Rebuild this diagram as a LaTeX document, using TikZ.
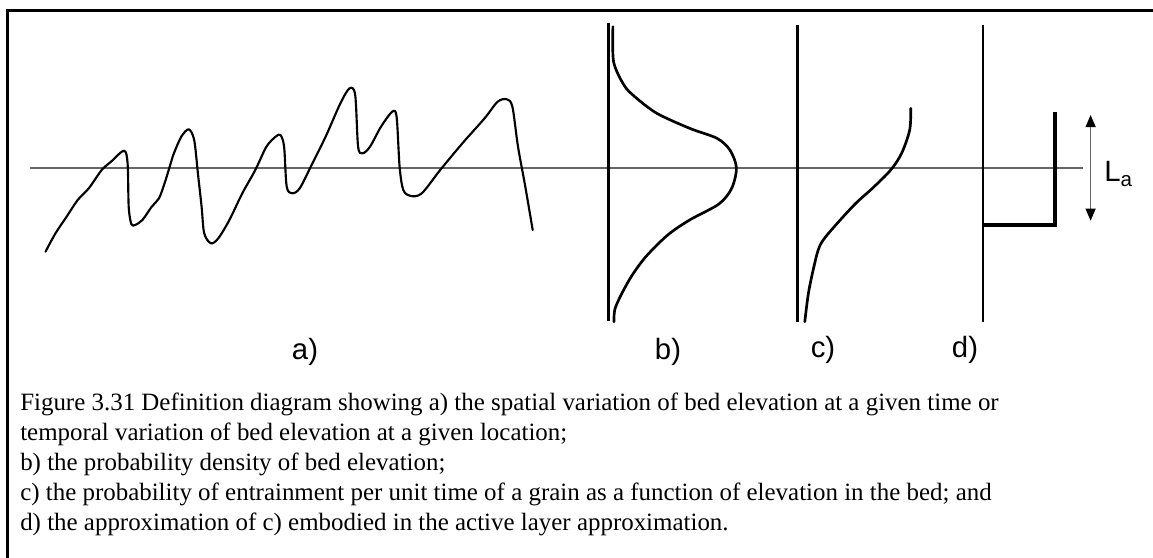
\documentclass[tikz,border=0pt]{standalone}
\usepackage{fontspec}
\setmainfont{Liberation Serif}
\setsansfont{Liberation Sans}
\usetikzlibrary{arrows.meta}

\begin{document}
\begin{tikzpicture}[x=0.75pt, y=-0.75pt]
  \tikzstyle{frame} = [line width=2pt, line cap=rect]
  \tikzstyle{datum} = [draw=black!60, line width=1.1pt]
  \tikzstyle{axis} = [line width=2.2pt]
  \tikzstyle{bed} = [line width=1.6pt, line join=round, line cap=round]
  \tikzstyle{curve} = [line width=2pt, line join=round, line cap=round]
  \tikzstyle{lbl} = [font=\sffamily\fontsize{22}{25}\selectfont, inner sep=0pt]

  \useasboundingbox (0,0) rectangle (1153,557);
  \draw[frame] (7.5,557) -- (7.5,10.5) -- (1153,10.5);

  % mean bed level
  \draw[datum] (30,168) -- (1083,168);

  % a) bed elevation
  \draw[bed] plot[smooth, tension=0.5] coordinates {
    (45.5,251.7) (55.5,233.3) (66.6,216.7) (77.7,200) (88.8,188.3) (101.7,170)
    (111,161.7) (124,150.7) (127.6,163.3) (128.7,206.7) (131.3,224) (135,225)
    (142.4,220) (151.7,206.7) (159,198.3) (164.6,183.3) (170.2,165) (173.9,153.3)
    (181.3,136.7) (188.7,129.3) (194.2,140) (197.9,173.3) (201.6,206.7) (204.2,233.3)
    (210.9,243.3) (218.3,238.3) (229.4,220) (242.3,193.3) (255.3,170) (266.4,146.7)
    (275.6,136.7) (280.4,135) (284.1,146.7) (286.7,186.7) (292.3,193.3) (299.7,188.3)
    (310.8,166.7) (325.6,136.7) (340.4,103.3) (349.6,88.3) (355.2,95) (358.1,146.7)
    (362.6,153.3) (370,146.7) (381,126.7) (392.2,111.7) (396.6,116.7) (399.6,166.7)
    (403.3,190) (410.7,196) (421.8,193.3) (440.2,170) (462.4,143.3) (484.6,118.3)
    (497.6,101.7) (506.8,99.3) (512.4,106.7) (518,146.7) (525.3,186.7) (532.7,230)};

  % b) probability density
  \draw[axis] (608.5,22.7) -- (608.5,320.7);
  \draw[curve] plot[smooth] coordinates {
    (612.9,26.7) (613.6,61.7) (623.9,85) (634.8,96.7) (656.8,113.3) (689.6,128.3)
    (717,138.3) (729.9,150) (736.4,167.7) (731.7,188.3) (718.9,204) (689.6,220)
    (667.7,235) (645.8,256.7) (631.2,276.7) (620.2,296.7) (614.7,310) (614,321.7)};

  % c) entrainment probability
  \draw[axis] (797.5,25) -- (797.5,321.7);
  \draw[curve] plot[smooth] coordinates {
    (910.8,108.3) (909.7,130) (901.6,153.3) (890.7,170) (872.4,188.3) (854.1,205)
    (828.5,233.3) (819.4,246.7) (813.9,266.7) (808.4,293.3) (804.8,321.7)};

  % d) active layer
  \draw[axis] (983,25) -- (983,321.7);
  \draw[line width=2.6pt] (983,225) -- (1055,225) -- (1055,111.7);

  \coordinate (latop) at (1090.6,115);
  \coordinate (labot) at (1090.6,220.7);
  \draw[draw=black!60, line width=0.8pt, {Triangle[color=black, width=7.5pt, length=9pt]}-{Triangle[color=black, width=7.5pt, length=9pt]}] (latop) -- (labot);
  \node[lbl, anchor=west] (la) at (1104,174) {L\textsubscript{a}};

  \node[lbl] (pa) at (305,352) {a)};
  \node[lbl] (pb) at (668,352) {b)};
  \node[lbl] (pc) at (823,350) {c)};
  \node[lbl] (pd) at (965,350) {d)};

  \node[anchor=north west, inner sep=0pt, align=left, font=\fontsize{18.7}{22.4}\selectfont] (cap) at (20,393) {Figure 3.31 Definition diagram showing a) the spatial variation of bed elevation at a given time or\\
    temporal variation of bed elevation at a given location;\\
    b) the probability density of bed elevation;\\
    c) the probability of entrainment per unit time of a grain as a function of elevation in the bed; and\\
    d) the approximation of c) embodied in the active layer approximation.};
\end{tikzpicture}
\end{document}
